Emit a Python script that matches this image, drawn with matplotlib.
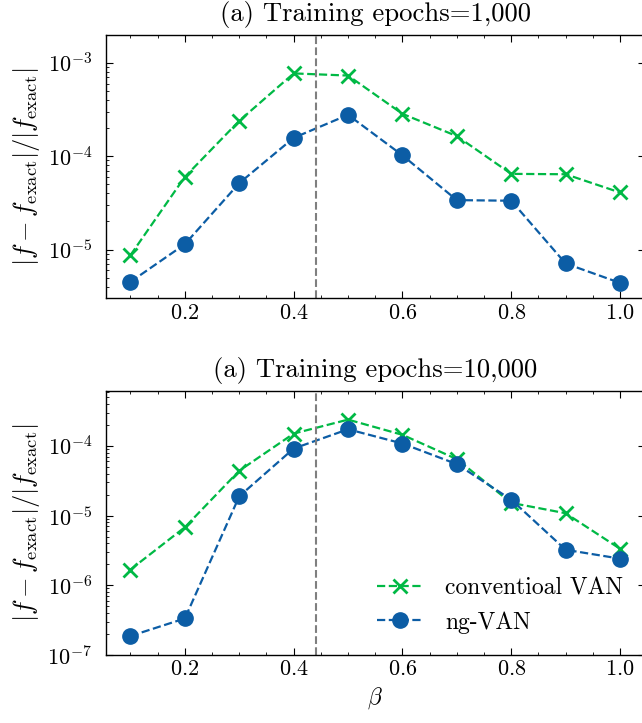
import matplotlib

matplotlib.use("Agg")
import matplotlib.pyplot as plt
from matplotlib.ticker import AutoMinorLocator, MultipleLocator

# beta values and relative errors
beta = [0.1, 0.2, 0.3, 0.4, 0.5, 0.6, 0.7, 0.8, 0.9, 1.0]
beta_c = 0.4407

van_1k = [8.7e-6, 6.0e-5, 2.39e-4, 7.7e-4, 7.3e-4, 2.84e-4, 1.64e-4, 6.46e-5, 6.4e-5, 4.08e-5]
ng_1k = [4.5e-6, 1.14e-5, 5.14e-5, 1.57e-4, 2.77e-4, 1.02e-4, 3.38e-5, 3.33e-5, 7.08e-6, 4.39e-6]

van_10k = [1.68e-6, 6.8e-6, 4.4e-5, 1.5e-4, 2.38e-4, 1.44e-4, 6.45e-5, 1.52e-5, 1.08e-5, 3.34e-6]
ng_10k = [1.87e-7, 3.34e-7, 1.89e-5, 9.15e-5, 1.73e-4, 1.08e-4, 5.47e-5, 1.69e-5, 3.23e-6, 2.41e-6]

titles = ["(a) Training epochs=1,000", "(a) Training epochs=10,000"]
ylims = [(3.0e-6, 2.0e-3), (1.0e-7, 6.2e-4)]

GREEN = "#00B945"
BLUE = "#0C5DA5"

plt.rcParams.update({
    "font.family": "serif",
    "font.serif": ["cmr10"],
    "mathtext.fontset": "cm",
    "axes.formatter.use_mathtext": True,
    "font.size": 16,
    "axes.linewidth": 1.0,
    "xtick.direction": "in",
    "ytick.direction": "in",
    "xtick.top": True,
    "ytick.right": True,
    "xtick.major.size": 5,
    "ytick.major.size": 5,
    "xtick.minor.size": 2.5,
    "ytick.minor.size": 2.5,
    "xtick.minor.visible": True,
    "ytick.minor.visible": True,
    "ytick.major.pad": 10,
})

fig = plt.figure(figsize=(6.42, 7.23), dpi=100)
ax1 = fig.add_axes([0.1651, 0.5874, 0.8388, 0.3646])
ax2 = fig.add_axes([0.1651, 0.0941, 0.8388, 0.3656])

data = [(van_1k, ng_1k), (van_10k, ng_10k)]
for ax, (van, ng), title, yl in zip([ax1, ax2], data, titles, ylims):
    ax.plot(beta, van, "--", color=GREEN, marker="x", markersize=10,
            markeredgewidth=2, lw=1.6, label="conventioal VAN")
    ax.plot(beta, ng, "--", color=BLUE, marker="o", markersize=11,
            lw=1.6, label="ng-VAN")
    ax.axvline(beta_c, color="#7f7f7f", ls="--", lw=1.5)
    ax.set_yscale("log")
    ax.set_ylim(*yl)
    ax.xaxis.set_major_locator(MultipleLocator(0.2))
    ax.xaxis.set_minor_locator(AutoMinorLocator(4))
    ax.set_title(title, pad=10)
    ax.set_ylabel(r"$|f - f_{\rm exact}|/|f_{\rm exact}|$", fontsize=19, labelpad=4)

ax2.set_xlabel(r"$\beta$", fontsize=17)
ax2.legend(loc="lower right", frameon=False, fontsize=17, handlelength=2.0,
           handletextpad=0.9, borderaxespad=0.5)

fig.savefig("out.png", dpi=100)
